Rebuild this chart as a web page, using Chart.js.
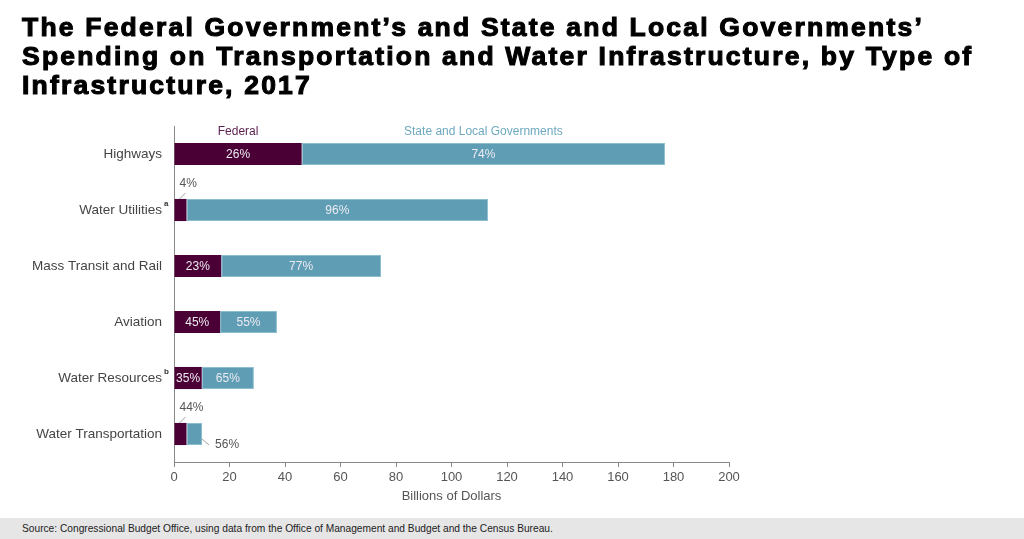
<!DOCTYPE html>
<html>
<head>
<meta charset="utf-8">
<script src="https://cdn.jsdelivr.net/npm/chart.js@4/dist/chart.umd.min.js"></script>
<style>
  html, body { margin: 0; padding: 0; background: #fff; }
  #wrap { position: relative; width: 1024px; height: 539px; overflow: hidden; }
  #title { position: absolute; left: 22px; top: 13px; margin: 0; font-family: "Liberation Sans", Arial, sans-serif;
           font-weight: bold; font-size: 26.5px; line-height: 29px; letter-spacing: 2.2px; color: #000;
           -webkit-text-stroke: 1.1px #000; white-space: nowrap; }
  #src { position: absolute; left: 0; top: 518px; width: 1024px; height: 21px; background: #e6e6e6;
         font-family: "Liberation Sans Narrow", "Liberation Sans", Arial, sans-serif; font-size: 10.2px; color: #222;
         line-height: 21px; padding-left: 22px; box-sizing: border-box; }
  canvas { position: absolute; left: 0; top: 0; }
</style>
</head>
<body>
<div id="wrap">
  <canvas id="c" width="1024" height="539"></canvas>
  <h1 id="title">The Federal Government’s and State and Local Governments’<br>Spending on Transportation and Water Infrastructure, by Type of<br>Infrastructure, 2017</h1>
  <div id="src">Source: Congressional Budget Office, using data from the Office of Management and Budget and the Census Bureau.</div>
</div>
<script>
const categories = ["Highways", "Water Utilities", "Mass Transit and Rail", "Aviation", "Water Resources", "Water Transportation"];
const footnotes = ["", "a", "", "", "b", ""];
const federalValues = [46, 4.5, 17, 16.6, 10, 4.5];
const stateLocalValues = [131, 108.7, 57.6, 20.5, 18.8, 5.6];
const federalPct = ["26%", "4%", "23%", "45%", "35%", "44%"];
const stateLocalPct = ["74%", "96%", "77%", "55%", "65%", "56%"];
const xTicks = [0, 20, 40, 60, 80, 100, 120, 140, 160, 180, 200];
const seriesNames = ["Federal", "State and Local Governments"];

const FED = "#4a0034";
const STATE = "#5f9db5";
const FONT = "'Liberation Sans', Arial, sans-serif";

const labelPlugin = {
  id: "segLabels",
  afterDatasetsDraw(chart) {
    const ctx = chart.ctx;
    const x = chart.scales.x, y = chart.scales.y;
    ctx.save();
    ctx.font = "12px " + FONT;
    ctx.textBaseline = "middle";
    const pcts = [federalPct, stateLocalPct];
    chart.data.datasets.forEach((ds, di) => {
      const meta = chart.getDatasetMeta(di);
      meta.data.forEach((bar, i) => {
        const txt = pcts[di][i];
        const left = Math.min(bar.x, bar.base), right = Math.max(bar.x, bar.base);
        const w = right - left;
        const tw = ctx.measureText(txt).width;
        const top = bar.y - bar.height / 2;
        if (w >= tw + 2) {
          ctx.fillStyle = "#ecebf2";
          ctx.textAlign = "center";
          ctx.fillText(txt, (left + right) / 2, bar.y + 0.5);
        } else {
          ctx.fillStyle = "#555";
          ctx.strokeStyle = "#a0a0a0";
          ctx.lineWidth = 1;
          ctx.textAlign = "left";
          if (di === 0) {
            ctx.beginPath();
            ctx.moveTo(left + 5, top);
            ctx.lineTo(left + 11, top - 6);
            ctx.stroke();
            ctx.fillText(txt, left + 5, top - 15);
          } else {
            ctx.beginPath();
            ctx.moveTo(right, top + 16);
            ctx.lineTo(right + 7, top + 22);
            ctx.stroke();
            ctx.fillText(txt, right + 13, top + 22);
          }
        }
      });
    });
    // series names centred above the segments of the first bar
    ctx.textAlign = "center";
    ctx.textBaseline = "middle";
    ctx.font = "12px " + FONT;
    const m0 = chart.getDatasetMeta(0).data[0];
    const m1 = chart.getDatasetMeta(1).data[0];
    const yName = m0.y - 22;
    ctx.fillStyle = "#5a1e4f";
    ctx.fillText(seriesNames[0], (m0.base + m0.x) / 2, yName);
    ctx.fillStyle = "#6ea8bf";
    ctx.fillText(seriesNames[1], (m1.base + m1.x) / 2, yName);
    // footnote superscripts on category labels
    ctx.font = "bold 8px " + FONT;
    ctx.fillStyle = "#333";
    ctx.textAlign = "left";
    footnotes.forEach((f, i) => {
      if (!f) return;
      ctx.fillText(f, x.left - 10, y.getPixelForValue(i) - 6);
    });
    ctx.restore();
  }
};

new Chart(document.getElementById("c"), {
  type: "bar",
  data: {
    labels: categories,
    datasets: [
      { label: seriesNames[0], data: federalValues, backgroundColor: FED, borderWidth: 0,
        barPercentage: 0.395, categoryPercentage: 1 },
      { label: seriesNames[1], data: stateLocalValues, backgroundColor: STATE, borderColor: "#8cbdd0",
        borderWidth: 1, borderSkipped: false, barPercentage: 0.395, categoryPercentage: 1 }
    ]
  },
  options: {
    indexAxis: "y",
    responsive: false,
    animation: false,
    layout: { padding: { top: 126, right: 295, bottom: 31, left: 0 } },
    plugins: { legend: { display: false }, tooltip: { enabled: false }, title: { display: false } },
    scales: {
      x: {
        stacked: true, min: 0, max: 200,
        afterBuildTicks(s) { s.ticks = xTicks.map(v => ({ value: v })); },
        afterFit(s) { s.height = 46; },
        grid: { display: true, drawOnChartArea: false, drawTicks: true, tickLength: 5, color: "#888" },
        border: { display: true, color: "#888", width: 1 },
        ticks: { color: "#555", font: { family: FONT, size: 13 }, padding: 3, maxRotation: 0 },
        title: { display: true, text: "Billions of Dollars", color: "#555", font: { family: FONT, size: 13 },
                 padding: { top: 2, bottom: 4 } }
      },
      y: {
        stacked: true,
        afterFit(s) { s.width = 174; },
        grid: { display: false, drawTicks: false },
        border: { display: true, color: "#888", width: 1 },
        ticks: { color: "#444", font: { family: FONT, size: 13.5 }, padding: 12 }
      }
    }
  },
  plugins: [labelPlugin]
});
</script>
</body>
</html>
